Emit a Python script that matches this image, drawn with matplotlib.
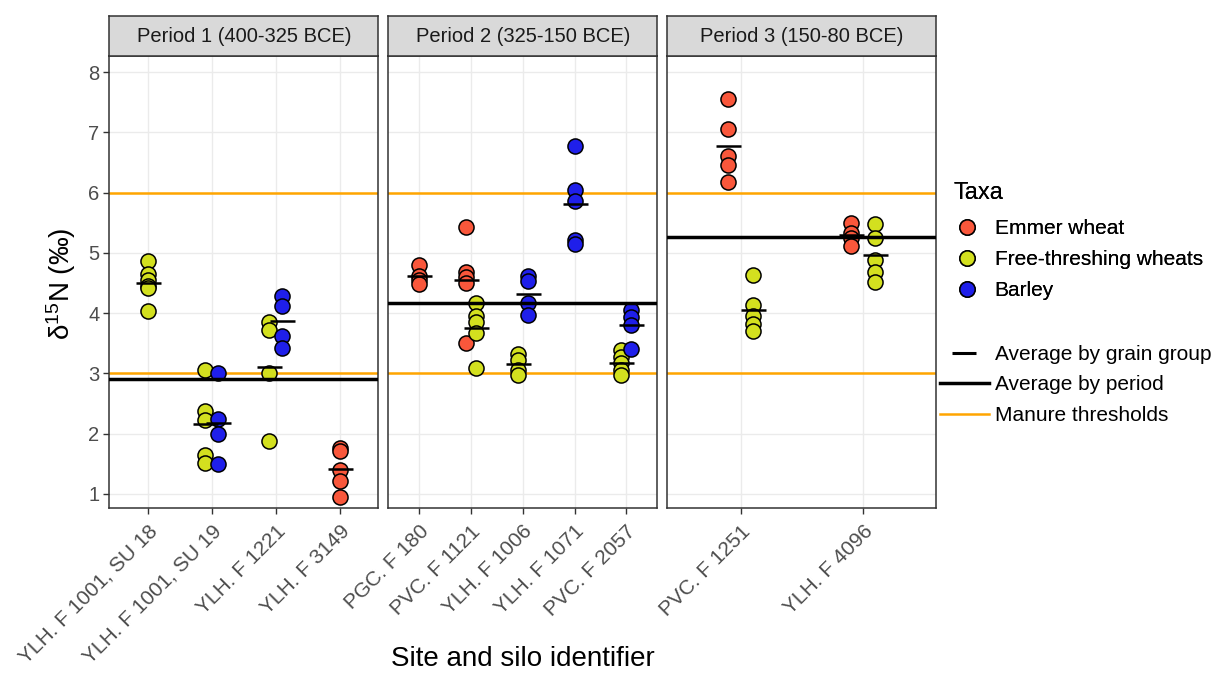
import matplotlib
matplotlib.use("Agg")
import matplotlib.pyplot as plt
from matplotlib.lines import Line2D
import numpy as np

plt.rcParams['font.family'] = ['Liberation Sans', 'DejaVu Sans']
plt.rcParams['mathtext.fontset'] = 'custom'
plt.rcParams['mathtext.rm'] = 'Liberation Sans'
plt.rcParams['mathtext.it'] = 'Liberation Sans:italic'

# ---------------- data ----------------
period_titles = ["Period 1 (400-325 BCE)", "Period 2 (325-150 BCE)", "Period 3 (150-80 BCE)"]
p1_sites = ["YLH. F 1001, SU 18", "YLH. F 1001, SU 19", "YLH. F 1221", "YLH. F 3149"]
p2_sites = ["PGC. F 180", "PVC. F 1121", "YLH. F 1006", "YLH. F 1071", "PVC. F 2057"]
p3_sites = ["PVC. F 1251", "YLH. F 4096"]
taxa = ["Emmer wheat", "Free-threshing wheats", "Barley"]
taxa_colors = ["#F9573B", "#D3E01F", "#1F1FEA"]

# Period 1
su18_free = [4.87, 4.65, 4.55, 4.45, 4.42, 4.04]
su19_free = [3.06, 2.38, 2.23, 1.65, 1.51]
su19_barley = [3.00, 2.24, 2.00, 1.50]
f1221_free = [3.85, 3.72, 3.00, 1.88]
f1221_barley = [4.29, 4.12, 3.62, 3.42]
f3149_emmer = [1.76, 1.72, 1.40, 1.22, 0.95]
# Period 2
f180_emmer = [4.80, 4.62, 4.55, 4.48]
f1121_emmer = [5.43, 4.69, 4.60, 4.50, 3.51]
f1121_free = [4.16, 3.96, 3.86, 3.67, 3.09]
f1006_free = [3.33, 3.23, 3.06, 2.98]
f1006_barley = [4.62, 4.53, 4.16, 3.97]
f1071_barley = [6.78, 6.05, 5.86, 5.22, 5.15]
f2057_free = [3.39, 3.28, 3.17, 3.06, 2.98]
f2057_barley = [4.06, 3.94, 3.81, 3.40]
# Period 3
f1251_emmer = [7.55, 7.06, 6.60, 6.45, 6.17]
f1251_free = [4.64, 4.13, 3.95, 3.82, 3.70]
f4096_emmer = [5.50, 5.33, 5.25, 5.12]
f4096_free = [5.48, 5.25, 4.88, 4.69, 4.51]

period_means = [2.90, 4.16, 5.27]
manure_thresholds = [3.0, 6.0]
y_ticks = [1, 2, 3, 4, 5, 6, 7, 8]

# (site index, taxon index, values) per panel
panels = [
    (p1_sites, [(0, 1, su18_free), (1, 1, su19_free), (1, 2, su19_barley),
                (2, 1, f1221_free), (2, 2, f1221_barley), (3, 0, f3149_emmer)]),
    (p2_sites, [(0, 0, f180_emmer), (1, 0, f1121_emmer), (1, 1, f1121_free),
                (2, 1, f1006_free), (2, 2, f1006_barley), (3, 2, f1071_barley),
                (4, 1, f2057_free), (4, 2, f2057_barley)]),
    (p3_sites, [(0, 0, f1251_emmer), (0, 1, f1251_free),
                (1, 0, f4096_emmer), (1, 1, f4096_free)]),
]

# ---------------- figure ----------------
W, H = 1218, 673
fig = plt.figure(figsize=(W / 100, H / 100), dpi=100)

panel_left = [109.3, 388.3, 667.3]
panel_w = 269.0
panel_top, panel_bot = 56.0, 508.0
strip_top = 15.7

grid_c = "#EBEBEB"
edge_c = "#333333"
tick_c = "#4D4D4D"

for i, (sites, groups) in enumerate(panels):
    l = panel_left[i] / W
    b = 1 - panel_bot / H
    h = (panel_bot - panel_top) / H
    ax = fig.add_axes([l, b, panel_w / W, h])
    n = len(sites)
    ax.set_xlim(0.4, n + 0.6)
    ax.set_ylim(0.767, 8.266)
    ax.set_xticks(np.arange(1, n + 1))
    ax.set_xticklabels(sites, rotation=45, ha='right', va='top',
                       rotation_mode='anchor', fontsize=15, color=tick_c)
    ax.set_yticks(y_ticks)
    ax.tick_params(axis='both', color=edge_c, width=1, length=4)
    ax.tick_params(axis='x', pad=6)
    ax.tick_params(axis='y', pad=3)
    if i == 0:
        ax.set_yticklabels([str(t) for t in y_ticks], fontsize=14.5, color=tick_c)
    else:
        ax.set_yticklabels([])
        ax.tick_params(axis='y', length=0)
    ax.grid(True, color=grid_c, lw=1.0, zorder=0)
    ax.set_axisbelow(True)
    for s in ax.spines.values():
        s.set_color(edge_c)
        s.set_linewidth(1.1)

    for t in manure_thresholds:
        ax.axhline(t, color="#FFA500", lw=1.8, zorder=1)

    per_site = {}
    for site_i, tx, vals in groups:
        per_site.setdefault(site_i, []).append(tx)
    for site_i, tx, vals in groups:
        present = sorted(per_site[site_i])
        k = len(present)
        off = 0.0 if k == 1 else (-0.1 if present.index(tx) == 0 else 0.1)
        x = np.full(len(vals), site_i + 1 + off)
        ax.scatter(x, vals, s=118, color=taxa_colors[tx], edgecolor="black",
                   linewidth=1.1, zorder=3)
        ax.plot([site_i + 1 + off], [np.mean(vals)], marker='_', ms=18,
                mew=1.8, color='black', ls='none', zorder=5)

    ax.axhline(period_means[i], color='black', lw=2.5, zorder=4)

    # strip
    sax = fig.add_axes([l, 1 - panel_top / H, panel_w / W, (panel_top - strip_top) / H])
    sax.set_facecolor("#D9D9D9")
    sax.set_xticks([])
    sax.set_yticks([])
    for s in sax.spines.values():
        s.set_color(edge_c)
        s.set_linewidth(1.1)
    sax.text(0.5, 0.48, period_titles[i], ha='center', va='center',
             fontsize=14.5, color="#1A1A1A", transform=sax.transAxes)

# axis titles
fig.text(523 / W, 1 - 659 / H, "Site and silo identifier", ha='center', va='center',
         fontsize=20, color='black')
fig.text(61 / W, 1 - 284 / H, r"δ$^{15}$N (‰)", ha='center', va='center',
         rotation=90, fontsize=20, color='black')

# legends
taxa_handles = [Line2D([], [], marker='o', ls='none', ms=11, markerfacecolor=c,
                       markeredgecolor='black', mew=1.1) for c in taxa_colors]
leg1 = fig.legend(taxa_handles, taxa, loc='upper left',
                  bbox_to_anchor=(954 / W, 1 - 182 / H), frameon=False,
                  fontsize=15, title="Taxa", title_fontsize=17,
                  handlelength=1.2, handletextpad=0.75, labelspacing=0.58,
                  borderpad=0, borderaxespad=0, alignment='left')
leg1._legend_box.sep = 11

line_handles = [Line2D([], [], marker='_', ls='none', ms=17, mew=2.2, color='black'),
                Line2D([], [], color='black', lw=2.5),
                Line2D([], [], color='#FFA500', lw=1.8)]
line_labels = ["Average by grain group", "Average by period", "Manure thresholds"]
leg2 = fig.legend(line_handles, line_labels, loc='upper left',
                  bbox_to_anchor=(940 / W, 1 - 345 / H), frameon=False,
                  fontsize=15, handlelength=2.35, handletextpad=0.3,
                  labelspacing=0.55, borderpad=0, borderaxespad=0)
fig.add_artist(leg1)

fig.savefig("out.png", dpi=100)
